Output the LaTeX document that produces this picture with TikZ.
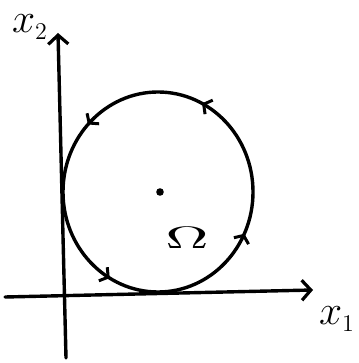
\documentclass[tikz,border=0pt]{standalone}
\usetikzlibrary{arrows.meta,decorations.markings}
\begin{document}
\begin{tikzpicture}[x=1pt,y=1pt,
  pen/.style={line width=3.4pt,line cap=round,line join=round},
  axistip/.style={-{Straight Barb[length=9pt,width=20pt,line width=3.2pt]}},
  flowtip/.style={postaction={decorate},decoration={markings,
     mark=at position 0.175 with {\arrow{Straight Barb[length=6pt,width=16pt,line width=3pt]}},
     mark=at position 0.38 with {\arrow{Straight Barb[length=6pt,width=16pt,line width=3pt]}},
     mark=at position 0.667 with {\arrow{Straight Barb[length=6pt,width=16pt,line width=3pt]}},
     mark=at position 0.93 with {\arrow{Straight Barb[length=6pt,width=16pt,line width=3pt]}}}},
  lab/.style={inner sep=0pt}]
\useasboundingbox (0,0) rectangle (358,363);
\coordinate (vb) at (66,5);
\coordinate (vt) at (58,330);
\coordinate (hl) at (5,66);
\coordinate (hr) at (313,73);
\draw[pen,axistip] (vb) -- (vt);
\draw[pen,axistip] (hl) -- (hr);
\node[lab] (xtwo) at (30,336) {\scalebox{2}{\huge$x_{\scriptscriptstyle 2}$}};
\node[lab] (xone) at (337,44) {\scalebox{2}{\huge$x_{\scriptscriptstyle 1}$}};
\coordinate (c) at (158,171);
\draw[pen,flowtip] (253,171) arc[start angle=0,end angle=360,x radius=95,y radius=100];
\fill (160,171) circle (3.8pt);
\node[lab] (om) at (187,125) {\scalebox{6}[3.1]{$\Omega$}};
\end{tikzpicture}
\end{document}
